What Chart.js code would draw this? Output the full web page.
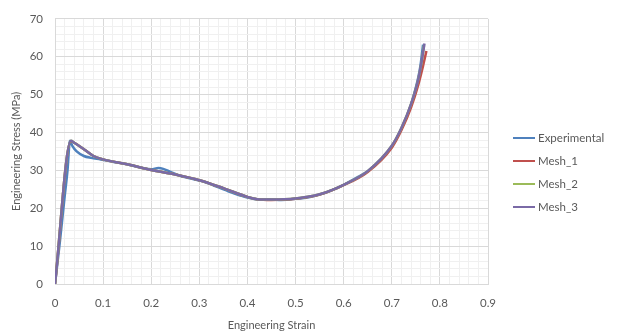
<!DOCTYPE html>
<html>
<head>
<meta charset="utf-8">
<script src="https://cdn.jsdelivr.net/npm/chart.js@4.4.1/dist/chart.umd.min.js"></script>
<style>
  html, body { margin: 0; padding: 0; background: #ffffff; }
  #wrap { position: relative; width: 618px; height: 332px; }
  #legend { position: absolute; left: 513px; top: 126px; font-family: Lato, "Open Sans", sans-serif; font-size: 11.5px; color: #595959; }
  .item { display: flex; align-items: center; height: 23px; }
  .swatch { width: 22px; height: 0; border-top: 2px solid; margin-right: 3px; }
</style>
</head>
<body>
<div id="wrap">
  <canvas id="c" width="618" height="332"></canvas>
  <div id="legend"></div>
</div>
<script>
// ---- Data ----
const seriesNames = ["Experimental", "Mesh_1", "Mesh_2", "Mesh_3"];
const seriesColors = ["#4F81BD", "#C0504D", "#9BBB59", "#7A6AA6"];

const strainExp = [0, 0.01, 0.02, 0.026, 0.031, 0.036, 0.045, 0.06, 0.075, 0.095, 0.12, 0.15, 0.18, 0.2, 0.215, 0.225, 0.24, 0.26, 0.29, 0.31, 0.33, 0.36, 0.39, 0.42, 0.45, 0.47, 0.5, 0.53, 0.55, 0.58, 0.6, 0.63, 0.65, 0.68, 0.7, 0.72, 0.735, 0.745, 0.755, 0.76, 0.765];
const stressExp = [0, 11, 23, 30, 37.8, 36.5, 35.0, 33.8, 33.3, 32.9, 32.3, 31.6, 30.7, 30.3, 30.6, 30.4, 29.6, 28.6, 27.6, 27.0, 26.0, 24.5, 23.2, 22.4, 22.3, 22.2, 22.5, 23.0, 23.6, 25.0, 26.2, 28.3, 29.8, 33.3, 36.3, 41.0, 45.5, 49.5, 54.5, 58.0, 63.2];

const strainMesh1 = [0, 0.033, 0.04, 0.06, 0.08, 0.1, 0.15, 0.2, 0.25, 0.3, 0.35, 0.4, 0.42, 0.45, 0.5, 0.55, 0.6, 0.65, 0.7, 0.72, 0.74, 0.755, 0.765, 0.772];
const stressMesh1 = [0, 37.7, 37.3, 35.6, 33.8, 32.9, 31.6, 30.1, 28.9, 27.4, 25.3, 23.0, 22.4, 22.2, 22.5, 23.6, 26.1, 29.6, 36.0, 40.6, 46.6, 52.6, 57.6, 61.5];

const strainMesh2 = [0, 0.033, 0.04, 0.06, 0.08, 0.1, 0.15, 0.2, 0.25, 0.3, 0.35, 0.4, 0.42, 0.45, 0.5, 0.55, 0.6, 0.65, 0.7, 0.72, 0.74, 0.755, 0.763, 0.767];
const stressMesh2 = [0, 37.8, 37.3, 35.6, 33.8, 32.9, 31.6, 30.1, 28.9, 27.4, 25.3, 23.0, 22.4, 22.3, 22.6, 23.7, 26.2, 29.8, 36.5, 41.2, 47.5, 54.0, 59.3, 63.0];

const strainMesh3 = [0, 0.033, 0.04, 0.06, 0.08, 0.1, 0.15, 0.2, 0.25, 0.3, 0.35, 0.4, 0.42, 0.45, 0.5, 0.55, 0.6, 0.65, 0.7, 0.72, 0.74, 0.755, 0.763, 0.768];
const stressMesh3 = [0, 37.8, 37.3, 35.6, 33.8, 32.9, 31.6, 30.1, 28.9, 27.4, 25.3, 23.0, 22.4, 22.3, 22.6, 23.7, 26.2, 29.8, 36.5, 41.2, 47.5, 54.0, 59.5, 63.5];

const xTickMajor = [0, 0.1, 0.2, 0.3, 0.4, 0.5, 0.6, 0.7, 0.8, 0.9];
const yTickMajor = [0, 10, 20, 30, 40, 50, 60, 70];

const xTitle = "Engineering Strain";
const yTitle = "Engineering Stress (MPa)";

// ---- Build ----
function pts(xs, ys) { return xs.map((x, i) => ({ x: x, y: ys[i] })); }
const seriesData = [pts(strainExp, stressExp), pts(strainMesh1, stressMesh1), pts(strainMesh2, stressMesh2), pts(strainMesh3, stressMesh3)];

const FONT = "Lato, 'Open Sans', sans-serif";
const TXT = "#595959";

function isMajorX(v) { return xTickMajor.some(m => Math.abs(m - v) < 1e-6); }
function isMajorY(v) { return yTickMajor.some(m => Math.abs(m - v) < 1e-6); }

// later series drawn on top (as in the source chart)
const datasets = seriesNames.map((n, i) => ({
  label: n,
  data: seriesData[i],
  order: seriesNames.length - i,
  borderColor: seriesColors[i],
  backgroundColor: seriesColors[i],
  borderWidth: 2.5,
  pointRadius: 0,
  fill: false,
  cubicInterpolationMode: 'monotone'
}));

new Chart(document.getElementById('c'), {
  type: 'line',
  data: { datasets: datasets },
  options: {
    responsive: false,
    animation: false,
    layout: { padding: { left: 0, right: 130, top: 12, bottom: 0 } },
    plugins: { legend: { display: false }, tooltip: { enabled: false } },
    scales: {
      x: {
        type: 'linear', min: 0, max: 0.9,
        afterFit: s => { s.height = 48; },
        ticks: {
          stepSize: 0.02, autoSkip: false, maxRotation: 0, padding: 12,
          color: TXT, font: { family: FONT, size: 11.5 },
          callback: v => isMajorX(v) ? String(Math.round(v * 10) / 10) : ''
        },
        grid: {
          color: c => isMajorX(c.tick.value) ? '#d9d9d9' : '#f0f0f0',
          lineWidth: 1, drawTicks: false
        },
        border: { color: '#d9d9d9' },
        title: { display: true, text: xTitle, color: TXT, font: { family: FONT, size: 11 }, padding: { top: 2, bottom: 0 } }
      },
      y: {
        type: 'linear', min: 0, max: 70,
        afterFit: s => { s.width = 55; },
        ticks: {
          stepSize: 2, autoSkip: false, padding: 12,
          color: TXT, font: { family: FONT, size: 11.5 },
          callback: v => isMajorY(v) ? String(v) : ''
        },
        grid: {
          color: c => isMajorY(c.tick.value) ? '#d9d9d9' : '#f0f0f0',
          lineWidth: 1, drawTicks: false
        },
        border: { color: '#d9d9d9' },
        title: { display: true, text: yTitle, color: TXT, font: { family: FONT, size: 11 }, padding: { top: 10, bottom: 0 } }
      }
    }
  }
});

// HTML legend built from the series arrays
const lg = document.getElementById('legend');
seriesNames.forEach((n, i) => {
  const it = document.createElement('div'); it.className = 'item';
  const sw = document.createElement('span'); sw.className = 'swatch'; sw.style.borderTopColor = seriesColors[i];
  const tx = document.createElement('span'); tx.textContent = n;
  it.appendChild(sw); it.appendChild(tx); lg.appendChild(it);
});
</script>
</body>
</html>
